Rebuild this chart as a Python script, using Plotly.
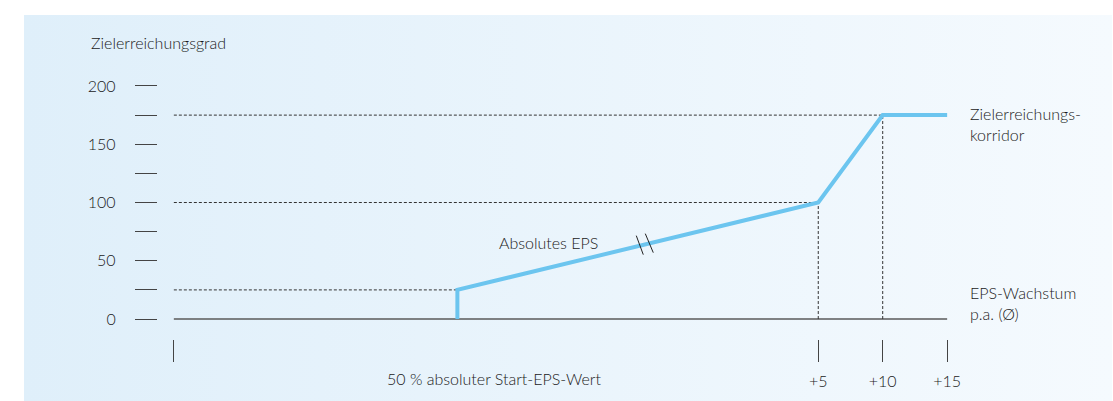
import plotly.graph_objects as go

# ---- data ----
line_x = [-23, -23, 5, 10, 15]          # EPS growth p.a. (schematic axis)
line_y = [0, 25, 100, 175, 175]         # Zielerreichungsgrad
y_tickvals = [0, 25, 50, 75, 100, 125, 150, 175, 200]
y_ticktext = ["0", "", "50", "", "100", "", "150", "", "200"]
x_tickvals = [-45, 5, 10, 15]
x_ticktext = ["", "+5", "+10", "+15"]
break_x = -8.5                           # position of axis-break marker on line

# ---- layout geometry ----
W, H = 1113, 401
X_RANGE = (-46, 16)
Y_RANGE = (-10, 205)
X_REF, X_PIX, X_SCALE = 5, 819, 12.9     # x=5 sits at 819 px
Y_REF, Y_PIX, Y_SCALE = 0, 318, 1.18     # y=0 sits at 318 px

def px(x):
    return x / W

def py(y):
    return 1 - y / H

x_dom = [px(X_PIX + (X_RANGE[0] - X_REF) * X_SCALE), px(X_PIX + (X_RANGE[1] - X_REF) * X_SCALE)]
y_dom = [py(Y_PIX - (Y_RANGE[0] - Y_REF) * Y_SCALE), py(Y_PIX - (Y_RANGE[1] - Y_REF) * Y_SCALE)]

TEXT = "#1a1a1a"
BLUE = "#6cc5ef"
FONT = "Lato"
FS = 16
FW = 300

fig = go.Figure()

# background gradient panel (on its own hidden axes)
fig.add_trace(go.Scatter(
    x=[0, 1, 1, 0, 0], y=[0, 0, 1, 1, 0], mode="lines", fill="toself",
    line=dict(width=0, color="rgba(0,0,0,0)"),
    fillgradient=dict(type="horizontal", colorscale=[[0, "#dfeffa"], [1, "#f5fafe"]]),
    hoverinfo="skip", showlegend=False, xaxis="x", yaxis="y"))

# baseline
fig.add_trace(go.Scatter(
    x=[x_tickvals[0], x_tickvals[-1]], y=[0, 0], mode="lines",
    line=dict(color="#5a5a5a", width=1.5), showlegend=False, hoverinfo="skip",
    xaxis="x2", yaxis="y2"))

# dotted horizontal guides
for i in [1, 2, 3]:
    fig.add_trace(go.Scatter(
        x=[x_tickvals[0], line_x[i]], y=[line_y[i], line_y[i]], mode="lines",
        line=dict(color="#333333", width=1, dash="3px,2px"), showlegend=False,
        hoverinfo="skip", xaxis="x2", yaxis="y2"))
# dotted vertical guides
for i in [2, 3]:
    fig.add_trace(go.Scatter(
        x=[line_x[i], line_x[i]], y=[0, line_y[i]], mode="lines",
        line=dict(color="#333333", width=1, dash="3px,2px"), showlegend=False,
        hoverinfo="skip", xaxis="x2", yaxis="y2"))

# main line
fig.add_trace(go.Scatter(
    x=line_x, y=line_y, mode="lines",
    line=dict(color=BLUE, width=4), showlegend=False,
    xaxis="x2", yaxis="y2"))

# break marker position on the line
bx = break_x
by = line_y[1] + (line_y[2] - line_y[1]) * (bx - line_x[1]) / (line_x[2] - line_x[1])
shapes = []
for (x0, y0, x1, y1) in [(-8, 9, -1, -10), (1, 11, 9, -8)]:
    shapes.append(dict(type="line", xref="x2", yref="y2", xsizemode="pixel", ysizemode="pixel",
                       xanchor=bx, yanchor=by, x0=x0, y0=y0, x1=x1, y1=y1,
                       line=dict(color="#222222", width=1)))

annotations = [
    dict(text="Zielerreichungsgrad", x=px(89), y=py(38), xanchor="left", yanchor="middle"),
    dict(text="Absolutes EPS", x=px(549), y=py(240), xanchor="center", yanchor="middle"),
    dict(text="Zielerreichungs-<br>korridor", x=px(969), y=py(121), xanchor="left", yanchor="middle"),
    dict(text="EPS-Wachstum<br>p.a. (Ø)", x=px(969), y=py(302), xanchor="left", yanchor="middle"),
    dict(text="50 % absoluter Start-EPS-Wert", x=px(495), y=py(378), xanchor="center", yanchor="middle"),
]
for a in annotations:
    a.update(xref="paper", yref="paper", showarrow=False, align="left",
             font=dict(family=FONT, size=FS, color=TEXT, weight=FW))

fig.update_layout(
    width=W, height=H,
    margin=dict(l=0, r=0, t=0, b=0),
    paper_bgcolor="white", plot_bgcolor="rgba(0,0,0,0)",
    showlegend=False,
    xaxis=dict(domain=[px(24), 1], range=[0, 1], visible=False, fixedrange=True),
    yaxis=dict(domain=[0, py(10)], range=[0, 1], visible=False, fixedrange=True),
    xaxis2=dict(domain=x_dom, range=list(X_RANGE), anchor="free", position=py(338),
                tickvals=x_tickvals, ticktext=x_ticktext, ticks="outside", ticklen=22,
                tickwidth=1, tickcolor="#444444", showgrid=False, zeroline=False,
                showline=False, ticklabelstandoff=6,
                tickfont=dict(family=FONT, size=FS, color=TEXT, weight=FW)),
    yaxis2=dict(domain=y_dom, range=list(Y_RANGE), anchor="free", position=px(157),
                tickvals=y_tickvals, ticktext=y_ticktext, ticks="outside", ticklen=22,
                tickwidth=1, tickcolor="#444444", showgrid=False, zeroline=False,
                showline=False, ticklabelstandoff=16,
                tickfont=dict(family=FONT, size=FS, color=TEXT, weight=FW)),
    shapes=shapes,
    annotations=annotations,
)

fig.write_html("out.html", config={"displayModeBar": False},
               post_script="document.body.style.margin='0';document.body.style.overflow='hidden';")
